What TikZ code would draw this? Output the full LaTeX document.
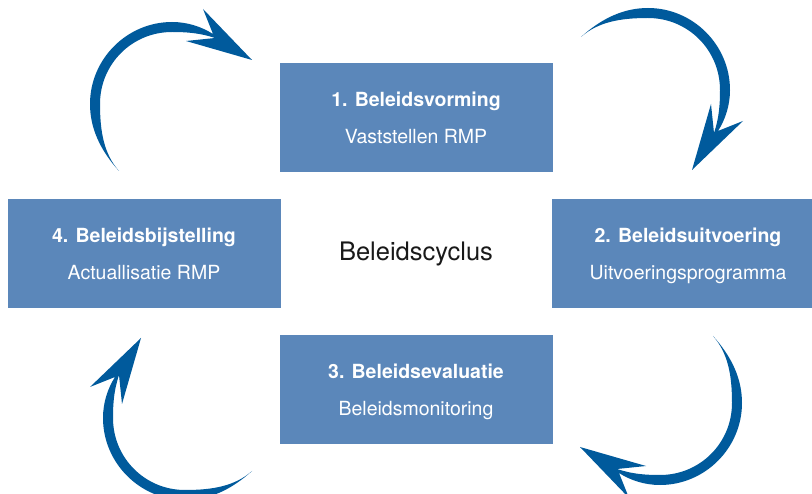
\documentclass[tikz,border=0pt]{standalone}
\usepackage{fontspec}
\setmainfont{TeX Gyre Heros}
\usepackage{xcolor}
\usepackage{tikz}
\usetikzlibrary{positioning}
\definecolor{stageblue}{HTML}{5B87BA}
\definecolor{arrowblue}{HTML}{005A9C}
\tikzset{stage/.style={rectangle, fill=stageblue, text=white, minimum width=273pt, minimum height=109pt, inner sep=0pt, align=center, font=\fontsize{19.5}{37}\selectfont}}
\tikzset{turn/.style={fill=arrowblue, draw=none}}

\begin{document}
\begin{tikzpicture}[x=1pt, y=-1pt, node distance={136pt and 272pt}, on grid]
		\useasboundingbox (0,0) rectangle (812,494);
		\clip (0,0) rectangle (812,494);
		\node (cycle) at (416,253.5) [font=\fontsize{25.5}{30}\selectfont, text=black!90] {Beleidscyclus};
		\node[stage] (vorming) [above=of cycle] {\textbf{1. Beleidsvorming}\strut\\Vaststellen RMP\strut};
		\node[stage] (uitvoering) [right=of cycle] {\textbf{2. Beleidsuitvoering}\strut\\Uitvoeringsprogramma\strut};
		\node[stage] (evaluatie) [below=of cycle] {\textbf{3. Beleidsevaluatie}\strut\\Beleidsmonitoring\strut};
		\node[stage] (bijstelling) [left=of cycle] {\textbf{4. Beleidsbijstelling}\strut\\Actuallisatie RMP\strut};
		
		% curved arrows round the cycle
		\foreach \cx/\cy/\turnangle in {172/104/0, 648/90/-90, 660/403/180, 185/418/90}
			\fill[turn, shift={(\cx,\cy)}, rotate=\turnangle] (-53,67)
				.. controls (-72,46) and (-82,24) .. (-82,0)
				.. controls (-82,-45) and (-45,-82) .. (0,-82)
				.. controls (16,-82) and (30,-77) .. (41,-70)
				-- (31,-95) -- (80,-44) -- (14,-63) -- (43,-66)
				.. controls (28,-71) and (15,-72) .. (0,-72)
				.. controls (-40,-72) and (-72,-40) .. (-72,0)
				.. controls (-72,28) and (-68,50) .. (-53,67) -- cycle;
	\end{tikzpicture}
\end{document}
